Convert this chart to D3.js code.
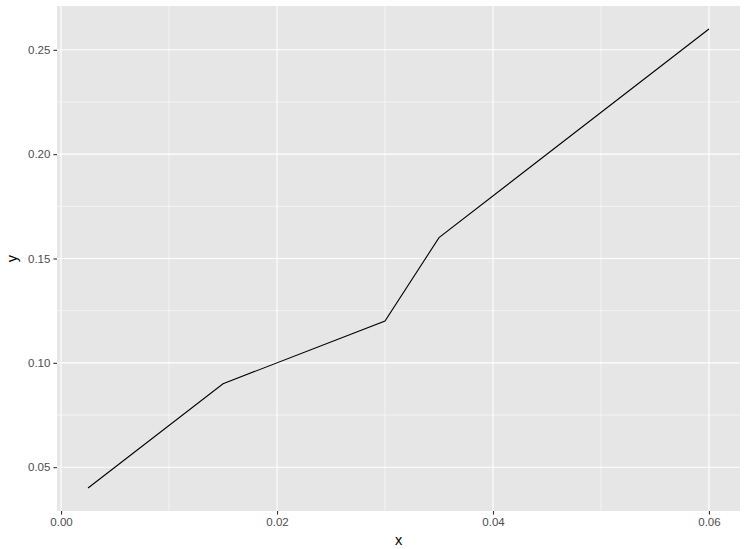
<!DOCTYPE html>
<html>
<head>
<meta charset="utf-8">
<script src="https://cdn.jsdelivr.net/npm/d3@7"></script>
<style>
  body { margin: 0; background: #fff; }
  text { font-family: "Liberation Sans", Arial, sans-serif; }
</style>
</head>
<body>
<svg id="chart" width="745" height="549"></svg>
<script>
const xs = [0.0025, 0.015, 0.03, 0.035, 0.06];
const ys = [0.04, 0.09, 0.12, 0.16, 0.26];
const xTicks = [0, 0.02, 0.04, 0.06];
const xMinor = [0.01, 0.03, 0.05];
const yTicks = [0.05, 0.10, 0.15, 0.20, 0.25];
const yMinor = [0.075, 0.125, 0.175, 0.225];

const svg = d3.select("#chart");
const panel = { left: 57, top: 6, right: 740, bottom: 511 };

const xr = d3.extent(xs), yr = d3.extent(ys);
const xPad = (xr[1] - xr[0]) * 0.05, yPad = (yr[1] - yr[0]) * 0.05;
const x = d3.scaleLinear().domain([xr[0] - xPad, xr[1] + xPad]).range([panel.left, panel.right]);
const y = d3.scaleLinear().domain([yr[0] - yPad, yr[1] + yPad]).range([panel.bottom, panel.top]);

svg.append("rect")
  .attr("x", panel.left).attr("y", panel.top)
  .attr("width", panel.right - panel.left).attr("height", panel.bottom - panel.top)
  .attr("fill", "#E6E6E6");

const grid = svg.append("g").attr("stroke", "#fff");
grid.selectAll(".xm").data(xMinor).join("line")
  .attr("x1", d => x(d)).attr("x2", d => x(d))
  .attr("y1", panel.top).attr("y2", panel.bottom).attr("stroke-width", 0.55);
grid.selectAll(".ym").data(yMinor).join("line")
  .attr("y1", d => y(d)).attr("y2", d => y(d))
  .attr("x1", panel.left).attr("x2", panel.right).attr("stroke-width", 0.55);
grid.selectAll(".xM").data(xTicks).join("line")
  .attr("x1", d => x(d)).attr("x2", d => x(d))
  .attr("y1", panel.top).attr("y2", panel.bottom).attr("stroke-width", 1.1);
grid.selectAll(".yM").data(yTicks).join("line")
  .attr("y1", d => y(d)).attr("y2", d => y(d))
  .attr("x1", panel.left).attr("x2", panel.right).attr("stroke-width", 1.1);

const line = d3.line().x(d => x(d[0])).y(d => y(d[1]));
svg.append("path")
  .datum(xs.map((v, i) => [v, ys[i]]))
  .attr("d", line)
  .attr("fill", "none").attr("stroke", "#000").attr("stroke-width", 1.1);

const xAxis = svg.append("g")
  .attr("transform", `translate(0,${panel.bottom})`)
  .call(d3.axisBottom(x).tickValues(xTicks).tickFormat(d3.format(".2f")).tickSizeOuter(0).tickSize(3.6).tickPadding(3));
const yAxis = svg.append("g")
  .attr("transform", `translate(${panel.left},0)`)
  .call(d3.axisLeft(y).tickValues(yTicks).tickFormat(d3.format(".2f")).tickSizeOuter(0).tickSize(3.6).tickPadding(3));
[xAxis, yAxis].forEach(a => {
  a.select(".domain").remove();
  a.selectAll(".tick line").attr("stroke", "#333").attr("stroke-width", 1.1);
  a.selectAll(".tick text").attr("fill", "#4D4D4D").style("font-size", "11.5px")
    .style("font-family", '"Liberation Sans", Arial, sans-serif');
});

svg.append("text")
  .attr("x", (panel.left + panel.right) / 2).attr("y", 545)
  .attr("text-anchor", "middle").attr("font-size", 14.5).attr("fill", "#000").text("x");
svg.append("text")
  .attr("transform", `translate(17,${(panel.top + panel.bottom) / 2}) rotate(-90)`)
  .attr("text-anchor", "middle").attr("font-size", 14.5).attr("fill", "#000").text("y");
</script>
</body>
</html>
